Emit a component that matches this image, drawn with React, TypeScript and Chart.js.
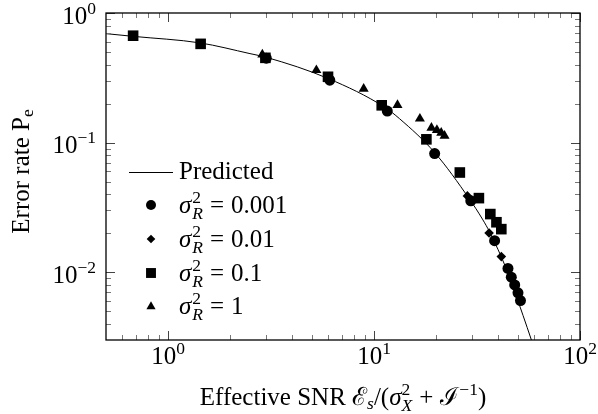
import React, { useEffect, useRef } from 'react';
import { Chart, registerables } from 'chart.js';

Chart.register(...registerables);

// ---- data ----
const predictedSNR = [0.5, 0.68, 1.43, 2.5, 3.0, 6.0, 11.3, 13.3, 19.7, 29.1, 33.6, 36.5, 43.9, 52.9, 58.1];
const predictedPe = [0.693, 0.66, 0.588, 0.486, 0.455, 0.312, 0.187, 0.153, 0.0838, 0.0366, 0.0257, 0.0203, 0.0106, 0.00464, 0.003];

const snrR0001 = [3.0, 6.1, 11.6, 19.7, 29.5, 38.5, 44.7, 46.4, 48.2, 50.0, 51.4];
const peR0001 = [0.448, 0.303, 0.175, 0.0823, 0.0356, 0.0175, 0.0107, 0.00916, 0.00798, 0.00693, 0.00605];

const snrR001 = [28.4, 36.2, 41.5];
const peR001 = [0.0388, 0.0201, 0.0132];

const snrR01 = [0.677, 1.44, 2.97, 5.98, 10.9, 17.96, 26.1, 32.3, 36.7, 39.3, 41.5];
const peR01 = [0.668, 0.578, 0.451, 0.322, 0.194, 0.106, 0.0588, 0.0373, 0.0281, 0.0243, 0.0215];

const snrR1 = [2.87, 5.25, 8.91, 13.0, 16.7, 19.0, 20.2, 21.2, 22.0];
const peR1 = [0.478, 0.362, 0.26, 0.195, 0.153, 0.13, 0.125, 0.119, 0.113];

const xMajorTicks = [1, 10, 100];
const xTickExponents = ['0', '1', '2'];
const yMajorTicks = [1, 0.1, 0.01];
const yTickExponents = ['0', '\u22121', '\u22122'];

const legendValues = ['0.001', '0.01', '0.1', '1'];
const legendStyles = ['circle', 'rectRot', 'rect', 'triangle'];

const FONT = "'Liberation Serif', 'DejaVu Serif', serif";
const MAIN = 25;
const SMALL = 17.5;

type Piece = { t: string; s: number; i?: boolean; dy?: number };
type Run = Piece | { stack: Piece[] } | { gap: number };

function setFont(ctx: CanvasRenderingContext2D, p: Piece) {
  ctx.font = `${p.i ? 'italic ' : ''}${p.s}px ${FONT}`;
}
function runWidth(ctx: CanvasRenderingContext2D, r: Run): number {
  if ('gap' in r) return r.gap;
  if ('stack' in r) {
    let m = 0;
    r.stack.forEach((p) => { setFont(ctx, p); m = Math.max(m, ctx.measureText(p.t).width); });
    return m;
  }
  setFont(ctx, r);
  return ctx.measureText(r.t).width;
}
function runsWidth(ctx: CanvasRenderingContext2D, runs: Run[]) {
  return runs.reduce((a, r) => a + runWidth(ctx, r), 0);
}
function drawRuns(ctx: CanvasRenderingContext2D, runs: Run[], x: number, y: number, align: 'left' | 'center' | 'right') {
  const w = runsWidth(ctx, runs);
  let cx = align === 'left' ? x : align === 'center' ? x - w / 2 : x - w;
  ctx.textAlign = 'left';
  ctx.textBaseline = 'alphabetic';
  runs.forEach((r) => {
    if ('gap' in r) { cx += r.gap; return; }
    const pieces = 'stack' in r ? r.stack : [r];
    pieces.forEach((p) => {
      setFont(ctx, p);
      ctx.fillText(p.t, cx, y + (p.dy || 0));
    });
    cx += runWidth(ctx, r);
  });
}

function drawMarker(ctx: CanvasRenderingContext2D, style: string, x: number, y: number, r: number) {
  ctx.beginPath();
  if (style === 'circle') ctx.arc(x, y, r, 0, Math.PI * 2);
  else if (style === 'rect') { const s = r * Math.SQRT1_2; ctx.rect(x - s, y - s, 2 * s, 2 * s); }
  else if (style === 'rectRot') { ctx.moveTo(x - r, y); ctx.lineTo(x, y - r); ctx.lineTo(x + r, y); ctx.lineTo(x, y + r); ctx.closePath(); }
  else {
    for (let k = 0; k < 3; k++) {
      const a = (k * 2 * Math.PI) / 3;
      const px = x + Math.sin(a) * r, py = y - Math.cos(a) * r;
      if (k === 0) ctx.moveTo(px, py); else ctx.lineTo(px, py);
    }
    ctx.closePath();
  }
  ctx.fill();
}

const markerRadius: Record<string, number> = { circle: 5.5, rectRot: 4.8, rect: 7.5, triangle: 5.8 };

const framePlugin = {
  id: 'pgfFrame',
  afterDraw(chart: any) {
    const ctx: CanvasRenderingContext2D = chart.ctx;
    const a = chart.chartArea;
    const xs = chart.scales.x;
    const ys = chart.scales.y;
    ctx.save();

    // ticks
    const tick = (x1: number, y1: number, x2: number, y2: number, color: string) => {
      ctx.strokeStyle = color;
      ctx.lineWidth = 1;
      ctx.beginPath(); ctx.moveTo(x1, y1); ctx.lineTo(x2, y2); ctx.stroke();
    };
    const xTick = (v: number, len: number, color: string) => {
      const px = Math.round(xs.getPixelForValue(v)) + 0.5;
      tick(px, a.bottom, px, a.bottom - len, color);
      tick(px, a.top, px, a.top + len, color);
    };
    const yTick = (v: number, len: number, color: string) => {
      const py = Math.round(ys.getPixelForValue(v)) + 0.5;
      tick(a.left, py, a.left + len, py, color);
      tick(a.right, py, a.right - len, py, color);
    };
    [0.1, 1, 10].forEach((d) => {
      for (let m = 2; m <= 9; m++) {
        const v = m * d;
        if (v > xs.min * 1.0001 && v < xs.max) xTick(v, 5, '#777');
      }
    });
    [0.001, 0.01, 0.1].forEach((d) => {
      for (let m = 2; m <= 9; m++) {
        const v = m * d;
        if (v > ys.min * 1.0001 && v < ys.max) yTick(v, 5, '#777');
      }
    });
    xMajorTicks.forEach((v) => xTick(v, 9, '#444'));
    yMajorTicks.forEach((v) => yTick(v, 9, '#444'));

    // frame
    ctx.strokeStyle = '#000';
    ctx.lineWidth = 1.3;
    ctx.strokeRect(a.left, a.top, a.right - a.left, a.bottom - a.top);

    ctx.fillStyle = '#000';
    // x tick labels
    xMajorTicks.forEach((v, i) => {
      const px = xs.getPixelForValue(v);
      drawRuns(ctx, [{ t: '10', s: MAIN }, { t: xTickExponents[i], s: SMALL, dy: -10 }], px, a.bottom + 24, 'center');
    });
    // y tick labels
    yMajorTicks.forEach((v, i) => {
      const py = ys.getPixelForValue(v);
      drawRuns(ctx, [{ t: '10', s: MAIN }, { t: yTickExponents[i], s: SMALL, dy: -10 }], a.left - 10, py + 10.5, 'right');
    });

    // x title
    drawRuns(ctx, [
      { t: 'Effective SNR ', s: MAIN },
      { t: '\u2130', s: MAIN },
      { t: 's', s: SMALL, i: true, dy: 4 },
      { t: '/(', s: MAIN },
      { t: '\u03c3', s: MAIN, i: true },
      { stack: [{ t: '2', s: SMALL, dy: -10 }, { t: 'X', s: SMALL, i: true, dy: 6 }] },
      { gap: 7 },
      { t: '+', s: MAIN },
      { gap: 7 },
      { t: '\u2110', s: MAIN },
      { t: '\u22121', s: SMALL, dy: -10 },
      { t: ')', s: MAIN },
    ], (a.left + a.right) / 2, 405, 'center');

    // y title
    ctx.save();
    ctx.translate(29, (a.top + a.bottom) / 2 - 5);
    ctx.rotate(-Math.PI / 2);
    drawRuns(ctx, [{ t: 'Error rate P', s: MAIN }, { t: 'e', s: SMALL, dy: 4 }], 0, 0, 'center');
    ctx.restore();

    // legend
    const lx = 129, tx = 179;
    ctx.strokeStyle = '#000';
    ctx.lineWidth = 1;
    ctx.beginPath(); ctx.moveTo(lx, 172.5); ctx.lineTo(lx + 44, 172.5); ctx.stroke();
    drawRuns(ctx, [{ t: 'Predicted', s: MAIN }], tx, 178.5, 'left');
    const rows = [205, 239, 273, 306.5];
    legendValues.forEach((val, i) => {
      const y = rows[i];
      drawMarker(ctx, legendStyles[i], 151, y, markerRadius[legendStyles[i]] - 0.5);
      drawRuns(ctx, [
        { t: '\u03c3', s: MAIN, i: true },
        { gap: 1 },
        { stack: [{ t: '2', s: SMALL, dy: -10 }, { t: 'R', s: SMALL, i: true, dy: 6 }] },
        { gap: 7 },
        { t: '=', s: MAIN },
        { gap: 7 },
        { t: val, s: MAIN },
      ], tx, y + 7.5, 'left');
    });

    ctx.restore();
  },
};

const pts = (xs: number[], ys: number[]) => xs.map((x, i) => ({ x, y: ys[i] }));

export default function App() {
  const ref = useRef<HTMLCanvasElement | null>(null);
  useEffect(() => {
    if (!ref.current) return;
    const scatter = (label: string, xsA: number[], ysA: number[], style: string, order: number) => ({
      label,
      data: pts(xsA, ysA),
      showLine: false,
      pointStyle: style,
      pointRadius: markerRadius[style],
      pointBackgroundColor: '#000',
      pointBorderWidth: 0,
      pointBorderColor: '#000',
      order,
    });
    const chart = new Chart(ref.current, {
      type: 'scatter',
      data: {
        datasets: [
          {
            label: 'Predicted',
            data: pts(predictedSNR, predictedPe),
            showLine: true,
            borderColor: '#000',
            borderWidth: 1,
            pointRadius: 0,
            cubicInterpolationMode: 'monotone',
            fill: false,
            order: 10,
          } as any,
          scatter('σ²R = 0.001', snrR0001, peR0001, 'circle', 4),
          scatter('σ²R = 0.01', snrR001, peR001, 'rectRot', 3),
          scatter('σ²R = 0.1', snrR01, peR01, 'rect', 2),
          scatter('σ²R = 1', snrR1, peR1, 'triangle', 1),
        ],
      },
      options: {
        animation: false,
        responsive: false,
        events: [],
        layout: { padding: { left: 106, right: 18, top: 13, bottom: 74 } },
        scales: {
          x: { type: 'logarithmic', min: 0.5, max: 100, display: false },
          y: { type: 'logarithmic', min: 0.003, max: 1, display: false },
        },
        plugins: { legend: { display: false }, tooltip: { enabled: false } },
      },
      plugins: [framePlugin],
    } as any);
    return () => chart.destroy();
  }, []);
  return (
    <div style={{ position: 'fixed', left: 0, top: 0, width: 598, height: 414, background: '#fff' }}>
      <canvas ref={ref} width={598} height={414} style={{ display: 'block' }} />
    </div>
  );
}
